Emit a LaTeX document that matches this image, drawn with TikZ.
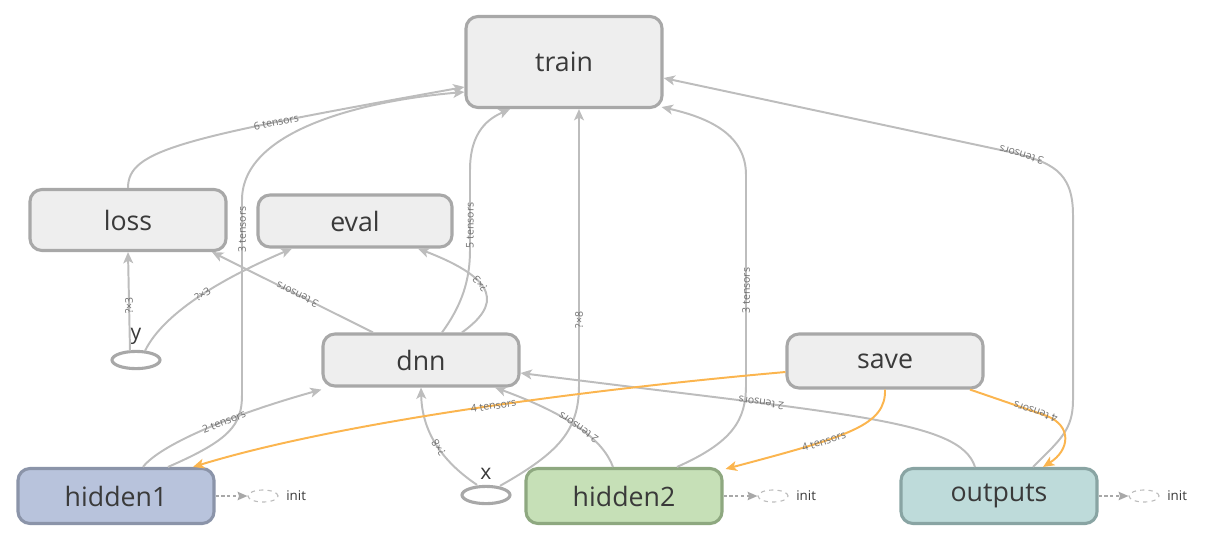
\documentclass[tikz,border=0pt]{standalone}
\usepackage{fontspec}
\setmainfont{Open Sans}
\usepackage{tikz}
\usetikzlibrary{shapes.geometric,arrows.meta,calc}

\definecolor{nodefill}{HTML}{EEEEEE}
\definecolor{nodeline}{HTML}{A8A8A8}
\definecolor{edgegray}{HTML}{BDBDBD}
\definecolor{saveorange}{HTML}{FBB54F}
\definecolor{labelgray}{HTML}{707070}
\definecolor{textgray}{HTML}{3A3A3A}
\definecolor{hidonefill}{HTML}{B8C3DC}
\definecolor{hidoneline}{HTML}{8B94A9}
\definecolor{hidtwofill}{HTML}{C6E0B7}
\definecolor{hidtwoline}{HTML}{8EA880}
\definecolor{outsfill}{HTML}{BEDBDA}
\definecolor{outsline}{HTML}{89A4A3}

\begin{document}
\begin{tikzpicture}[x=0.025cm,y=-0.025cm,>={Stealth[length=8pt,width=7pt,inset=2pt]},
	op node/.style={draw=nodeline, fill=nodefill, line width=2.2pt, rounded corners=0.3cm, minimum width=4.9cm, inner sep=0pt, text=textgray, font=\fontsize{19}{20}\selectfont},
	ph node/.style={draw=nodeline, line width=2.2pt, ellipse, minimum width=1.2cm, minimum height=0.43cm, inner sep=0pt},
	ph label/.style={text=textgray, font=\fontsize{15}{16}\selectfont, label distance=0.5pt},
	init node/.style={draw=edgegray, dashed, line width=0.8pt, ellipse, minimum width=0.75cm, minimum height=0.3cm, inner sep=0pt, label={[text=textgray, font=\fontsize{9.5}{10}\selectfont, label distance=2pt]right:init}},
	dataflow/.style={->, draw=edgegray, line width=1.4pt},
	saveflow/.style={->, draw=saveorange, line width=1.4pt},
	initflow/.style={-{Stealth[length=7pt,width=6pt,inset=1pt]}, draw=nodeline, line width=1pt, dash pattern=on 2.2pt off 2pt},
	lbl/.style={sloped, allow upside down, text=labelgray, font=\fontsize{7.5}{8}\selectfont, inner sep=0.5pt},
	rlbl/.style={lbl, rotate=180}]
	\useasboundingbox (0,0) rectangle (1208,534);
	
	\node[op node, minimum height=2.275cm] (train) at (564,62) {train};
	\node[op node, minimum height=1.525cm] (loss) at (128,220) {loss};
	\node[op node, minimum height=1.3cm, minimum width=4.85cm] (eval) at (355,221) {eval};
	\node[op node, minimum height=1.3cm] (dnn) at (421,360) {dnn};
	\node[op node, minimum height=1.35cm] (save) at (885,361) {save};
	\node[op node, minimum height=1.375cm, fill=hidonefill, draw=hidoneline] (hidden1) at (116,496) {hidden1};
	\node[op node, minimum height=1.375cm, fill=hidtwofill, draw=hidtwoline] (hidden2) at (624,496) {hidden2};
	\node[op node, minimum height=1.375cm, fill=outsfill, draw=outsline] (outputs) at (999,496) {outputs};
	
	\node[ph node, label={[ph label]above:y}] (yin) at (136,360) {};
	\node[ph node, label={[ph label]above:x}] (xin) at (486,495) {};
	
	\node[init node] (init1) at (263,496) {};
	\node[init node] (init2) at (773,496) {};
	\node[init node] (init3) at (1144,496) {};
	
	\draw[dataflow] (loss.north) .. controls (128,150) and (180,138) .. node[lbl, pos=0.72] {6 tensors} ($(train.west)+(0,25)$);
	\draw[dataflow] ($(hidden1.north)+(52,0)$) .. controls (230,440) and (242,425) .. (242,395) -- node[lbl, pos=0.85] {3 tensors} (242,200) .. controls (242,128) and (370,100) .. ($(train.west)+(0,30)$);
	\draw[dataflow] ($(hidden1.north)+(27,0)$) .. controls (160,445) and (230,415) .. node[lbl, pos=0.6] {2 tensors} ($(dnn.south west)+(0,2)$);
	\draw[dataflow] ($(yin.north)+(-6,1)$) -- node[lbl, pos=0.46] {?×3} (loss.south);
	\draw[dataflow] ($(yin.north)+(9,1)$) .. controls (165,310) and (230,275) .. node[lbl, pos=0.5] {?×3} ($(eval.south)+(-63,0)$);
	\draw[dataflow] ($(dnn.north)+(-48,0)$) -- node[lbl, pos=0.47] {3 tensors} ($(loss.south)+(84,0)$);
	\draw[dataflow] ($(dnn.north)+(41,0)$) .. controls (500,305) and (500,280) .. node[lbl, pos=0.6] {?×3} ($(eval.south)+(63,0)$);
	\draw[dataflow] ($(dnn.north)+(21,0)$) .. controls (462,305) and (470,280) .. (470,250) -- node[lbl, pos=0.31] {5 tensors} (470,170) .. controls (470,130) and (490,118) .. ($(train.south)+(-54,0)$);
	\draw[dataflow] ($(xin.north)+(14,1)$) .. controls (560,452) and (579,430) .. (579,385) -- node[lbl, pos=0.235] {?×8} ($(train.south)+(15,0)$);
	\draw[dataflow] ($(xin.north)+(-9,0)$) .. controls (440,460) and (422,430) .. node[lbl, pos=0.45] {?×8} (dnn.south);
	\draw[dataflow] ($(hidden2.north)+(-11,0)$) .. controls (603,440) and (570,415) .. node[lbl, pos=0.5] {2 tensors} ($(dnn.south)+(74,0)$);
	\draw[dataflow] ($(hidden2.north)+(53,0)$) .. controls (733,442) and (746,420) .. (746,385) -- node[lbl, pos=0.45] {3 tensors} (746,175) .. controls (746,135) and (710,118) .. ($(train.south east)+(-2,-2)$);
	\draw[dataflow] ($(outputs.north)+(-24,0)$) .. controls (960,420) and (850,415) .. node[lbl, pos=0.7] {2 tensors} ($(dnn.east)+(0,13)$);
	\draw[dataflow] ($(outputs.north)+(34,0)$) .. controls (1060,440) and (1073,430) .. (1073,400) -- (1073,215) .. controls (1073,170) and (1050,162) .. node[lbl, pos=0.9] {3 tensors} (1010,152) -- ($(train.east)+(0,16)$);
	
	\draw[saveflow] ($(save.west)+(0,11)$) .. controls (560,392) and (330,425) .. node[rlbl, pos=0.44] {4 tensors} ($(hidden1.north)+(77,0)$);
	\draw[saveflow] (save.south) .. controls (886,425) and (850,436) .. node[rlbl, pos=0.66] {4 tensors} ($(hidden2.north east)+(2,2)$);
	\draw[saveflow] ($(save.south)+(85,0)$) -- node[rlbl, pos=0.85] {4 tensors} (1047,416) .. controls (1072,426) and (1070,450) .. ($(outputs.north)+(44,0)$);
	
	\draw[initflow] (hidden1.east) -- (init1.west);
	\draw[initflow] (hidden2.east) -- (init2.west);
	\draw[initflow] (outputs.east) -- (init3.west);
\end{tikzpicture}
\end{document}
